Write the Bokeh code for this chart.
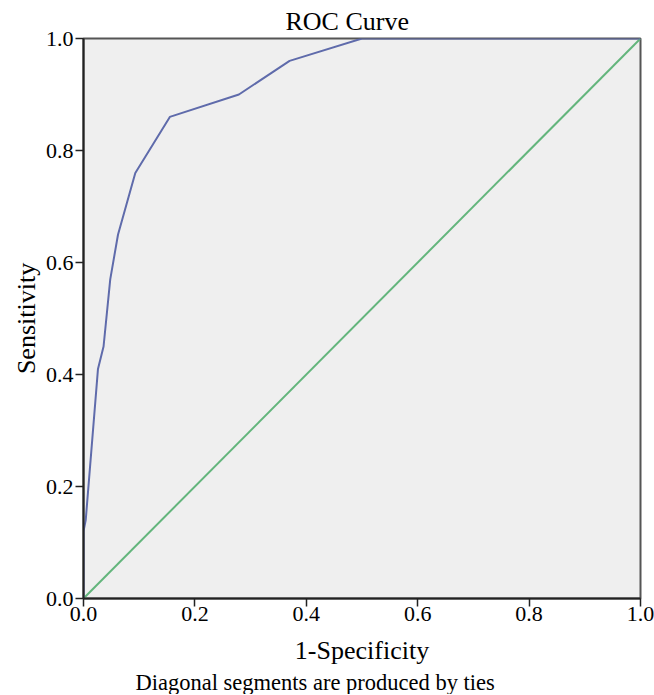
from bokeh.plotting import figure
from bokeh.models import Range1d, FixedTicker, Title
from bokeh.embed import file_html
from bokeh.resources import INLINE

# ROC curve values (1-Specificity, Sensitivity)
fpr = [0.0, 0.0, 0.004, 0.026, 0.036, 0.048, 0.062, 0.093, 0.155, 0.279, 0.370, 0.5, 1.0]
tpr = [0.0, 0.12, 0.14, 0.41, 0.45, 0.57, 0.65, 0.76, 0.86, 0.90, 0.96, 1.0, 1.0]
ref_x = [0.0, 1.0]
ref_y = [0.0, 1.0]
ticks = [0.0, 0.2, 0.4, 0.6, 0.8, 1.0]
tick_labels = ["0.0", "0.2", "0.4", "0.6", "0.8", "1.0"]

FONT = "Liberation Serif"

p = figure(frame_width=557, frame_height=560, width=654, height=695,
           x_range=Range1d(0, 1), y_range=Range1d(0, 1),
           output_backend="svg", toolbar_location=None,
           min_border_left=83, min_border_right=14, min_border_top=38, min_border_bottom=60)

p.title.text = "ROC Curve"
p.title.align = "left"
p.title.offset = 202
p.title.text_font = FONT
p.title.text_font_size = "26px"
p.title.text_font_style = "normal"
p.title.text_color = "black"
p.title.standoff = 6

p.background_fill_color = "#efefef"
p.border_fill_color = "white"
p.outline_line_color = "#555555"
p.outline_line_width = 2
p.grid.visible = False

for ax in (p.xaxis[0], p.yaxis[0]):
    ax.ticker = FixedTicker(ticks=ticks)
    ax.major_label_overrides = {t: l for t, l in zip(ticks, tick_labels)}
    ax.major_label_text_font = FONT
    ax.major_label_text_font_size = "22px"
    ax.major_label_text_color = "black"
    ax.axis_label_text_font = FONT
    ax.axis_label_text_font_size = "26px"
    ax.axis_label_text_font_style = "normal"
    ax.axis_label_text_color = "black"
    ax.axis_line_color = "#222222"
    ax.axis_line_width = 2
    ax.major_tick_line_color = "#222222"
    ax.major_tick_line_width = 1.5
    ax.major_tick_out = 8
    ax.major_tick_in = 0
    ax.minor_tick_line_color = None

p.xaxis.axis_label = "1-Specificity"
p.yaxis.axis_label = "Sensitivity"
p.xaxis.major_label_standoff = 0
p.yaxis.major_label_standoff = 2
p.xaxis.axis_label_standoff = 12
p.yaxis.axis_label_standoff = 2

p.line(ref_x, ref_y, line_color="#63b57c", line_width=2)
p.line(fpr, tpr, line_color="#5f6bab", line_width=2)

foot = Title(text="Diagonal segments are produced by ties", align="left",
             text_font=FONT, text_font_size="22.5px", text_font_style="normal",
             text_color="black", offset=52, standoff=0)
p.add_layout(foot, "below")

open("out.html", "w").write(file_html(p, INLINE))
